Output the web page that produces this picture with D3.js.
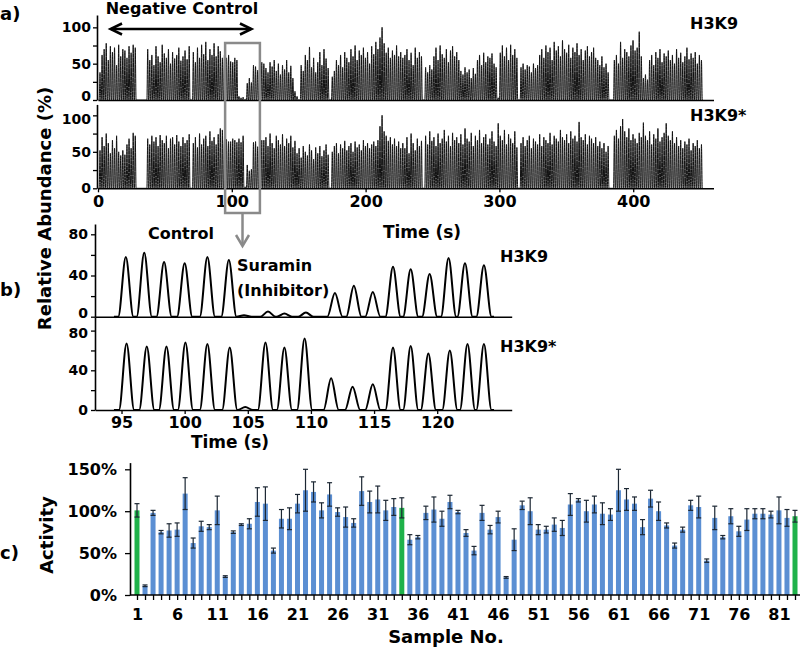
<!DOCTYPE html>
<html><head><meta charset="utf-8">
<script src="https://cdn.jsdelivr.net/npm/d3@7"></script>
<style>
body{margin:0;background:#fff;}
svg{display:block;font-family:"DejaVu Sans",sans-serif;font-weight:bold;}
</style></head><body>
<svg id="chart" width="800" height="651"></svg>
<script>
// ---------------- DATA ----------------
// Panel a: overview chromatograms, one peak height (%) per injection slot
const traceStart = 1.5;      // s, first injection
const traceStep = 1.55;      // s, between injections
const h3k9Overview = [
 38,62,70,78,55,74,66,72,48,76,60,70,68,58,74,65,76,72,
 0,0,0,0,0,
 70,55,62,48,74,60,52,76,64,58,70,50,66,57,62,72,54,60,68,56,74,
 0,
 66,52,72,58,76,63,80,55,70,62,78,60,74,67,58,62,
 58,62,53,52,58,55,
 5,3,4,1,
 23,30,24,
 48,46,41,57,52,50,
 44,38,52,46,55,40,50,35,48,42,55,38,47,30,12,
 5,0,
 48,40,62,55,73,45,58,38,52,66,48,70,57,44,
 0,
 32,40,55,48,62,45,66,58,52,70,60,75,55,68,62,72,58,66,50,74,63,80,70,86,100,78,65,72,58,68,62,75,60,66,58,
 62,70,55,65,48,72,58,66,60,
 0,
 45,38,48,42,60,72,55,75,63,58,70,52,68,74,60,66,55,40,35,45,38,42,30,44,36,55,62,48,65,52,60,58,64,50,45,3,
 65,75,60,72,55,76,62,70,58,
 0,
 45,50,42,48,46,38,50,44,48,62,70,58,75,66,72,55,80,68,74,60,82,70,65,76,58,72,66,78,62,70,55,68,74,60,66,72,58,55,48,60,45,50,38,
 0,0,
 55,62,50,80,58,70,66,60,75,82,68,72,94,60,
 30,35,28,
 55,62,48,66,58,70,52,64,60,68,55,62,50,70,58,65,52,60,72,56,64,58,66,50,62,55
];
const h3k9StarOverview = [
 52,70,58,75,62,48,66,55,72,50,45,52,46,60,68,55,76,72,
 0,0,0,0,0,
 68,60,72,64,70,58,73,66,62,72,55,68,70,60,73,64,58,70,62,66,74,
 0,
 62,70,56,75,60,68,72,58,78,65,70,60,74,82,80,66,
 67,64,64,68,66,63,
 68,63,72,2,
 32,24,26,
 63,64,57,60,66,66,
 70,58,75,62,55,72,66,60,74,58,68,62,72,56,65,
 48,55,42,58,50,45,60,52,40,56,48,58,44,52,60,46,
 0,
 50,58,62,48,60,55,65,52,58,62,50,64,56,60,52,66,58,62,55,60,64,58,66,85,100,78,72,65,70,60,68,58,64,55,62,
 55,70,48,75,62,52,68,58,65,
 0,
 72,60,78,65,70,58,75,62,68,80,64,72,58,76,66,70,62,74,60,82,68,64,76,58,72,66,80,62,70,74,60,68,78,64,58,89,72,66,80,60,74,68,62,78,56,
 0,
 62,70,58,66,72,55,68,64,60,74,58,70,66,62,76,60,72,68,64,80,70,66,74,62,78,68,72,64,91,70,66,74,60,72,68,62,70,58,64,55,62,50,58,
 0,0,
 72,80,68,85,95,78,70,82,66,74,68,62,76,70,90,72,66,78,60,74,68,82,64,70,76,89,72,66,78,62,70,58,66,55,64,60,68,52,62,58,66,55,60
];
const overviewTicks = [0, 100, 200, 300, 400];
const overviewYTicks = [0, 25, 50, 75, 100];
const zoomWindow = [95, 121];

// Panel b: zoomed region (time s, peak height %)
const zoomTimesH3K9 = [95.34,96.8,98.37,100.0,101.8,103.5,104.7,106.6,107.9,109.6,111.9,113.4,114.9,116.5,117.9,119.4,120.9,122.2,123.7];
const zoomHeightsH3K9 = [58,62,53,52,58,55,1.5,5,3,4,23,30,24,48.5,46,41.5,57,52,50];
const zoomTimesH3K9Star = [95.4,97.0,98.56,100.06,101.8,103.57,104.8,106.4,107.9,109.5,111.6,113.3,114.9,116.5,117.9,119.3,121.0,122.4,123.7];
const zoomHeightsH3K9Star = [67,64,64,68,66.5,63,3,68,63,72,32,23.5,26,63,64.5,57,60,66.5,66.5];
const zoomTicks = [95, 100, 105, 110, 115, 120];
const zoomYTicks = [0, 20, 40, 60, 80];

// Panel c: activity per sample (%), with error
const samples = d3.range(1, 84);
const activity = [101,11,98,75,77,78,121,62,82,81,101,22,75,84,85,111,109,53,91,91,
 109,125,123,101,120,99,93,86,124,111,114,101,105,104,66,69,98,102,91,111,
 99,74,53,98,78,93,21,66,107,100,78,78,84,80,108,113,100,108,97,96,
 125,114,109,81,115,100,83,59,78,107,105,41,92,69,94,76,90,97,97,96,
 101,92,94];
const activityErr = [8,1,3,2,8,8,19,6,6,3,17,1,1.5,1,6,17,20,3,11,13,
 11,25,12,9,14,5,12,5,17,13,16,12,10,12,6,2,8,15,9,8,
 2,4,5,9,5,7,1,13,5,16,6,4,8,9,13,2,13,10,13,7,
 25,13,8,9,10,11,3,3,3,6,13,2,14,2,9,6,13,6,6,4,
 16,10,7];
const controlSamples = [1, 34, 83];
const activityTicks = [0, 50, 100, 150];

// ---------------- DRAWING ----------------
const svg = d3.select("#chart");
const AX = 1.6;

function styleAxis(g, size) {
  g.attr("font-family", null).attr("font-size", size || 16).attr("font-weight", "bold");
  g.selectAll("path.domain").attr("stroke-width", AX).attr("stroke", "#000");
  g.selectAll(".tick line").attr("stroke-width", 1.3).attr("stroke", "#000");
  g.selectAll(".tick text").attr("fill", "#000");
}
function peakPoints(times, heights, hw, t0, t1) {
  const pts = [[t0, 0]];
  times.forEach((t, i) => { pts.push([t - hw, 0], [t, heights[i]], [t + hw, 0]); });
  pts.push([t1, 0]);
  return pts;
}
function txt(x, y, s, size, anchor) {
  return svg.append("text").attr("x", x).attr("y", y).attr("font-size", size)
    .attr("text-anchor", anchor || "start").attr("fill", "#000").text(s);
}

// ----- Panel a -----
const xA = d3.scaleLinear([0, 460], [98, 713.5]);
const yA1 = d3.scaleLinear([0, 117], [100, 15]);
const yA2 = d3.scaleLinear([0, 115], [188.3, 104.4]);
const overviewTimes = h3k9Overview.map((_, i) => traceStart + traceStep * i);

[[h3k9Overview, yA1], [h3k9StarOverview, yA2]].forEach(([hs, y]) => {
  const line = d3.line().x(d => xA(d[0])).y(d => y(d[1])).curve(d3.curveMonotoneX);
  svg.append("path").datum(peakPoints(overviewTimes, hs, 0.6, 0.5, 452))
    .attr("d", line).attr("fill", "none").attr("stroke", "#111").attr("stroke-width", 1);
});
svg.append("g").attr("transform", "translate(97,0)")
  .call(d3.axisLeft(yA1).tickValues(overviewYTicks).tickFormat(d => d % 50 === 0 ? d : "").tickSize(4).tickPadding(2).tickSizeOuter(0))
  .call(g => styleAxis(g, 14))
  .call(g => g.selectAll(".tick text").filter(d => d === 0).attr("dy", "0.05em"));
svg.append("g").attr("transform", "translate(97,0)")
  .call(d3.axisLeft(yA2).tickValues(overviewYTicks).tickFormat(d => d % 50 === 0 ? d : "").tickSize(4).tickPadding(2).tickSizeOuter(0))
  .call(g => styleAxis(g, 14))
  .call(g => g.selectAll(".tick text").filter(d => d === 100).attr("dy", "0.55em"));
svg.append("g").attr("transform", "translate(0,100)")
  .call(d3.axisBottom(xA).tickValues([]).tickSizeOuter(0)).call(styleAxis);
svg.append("g").attr("transform", "translate(0,188.3)")
  .call(d3.axisBottom(xA).tickValues(overviewTicks).tickSize(4).tickPadding(3).tickSizeOuter(0))
  .call(styleAxis);

txt(0, 20, "a)", 18);
txt(182, 14, "Negative Control", 16, "middle");
// double arrow
svg.append("line").attr("x1", 111).attr("x2", 251).attr("y1", 29).attr("y2", 29).attr("stroke", "#000").attr("stroke-width", 2.5);
svg.append("polyline").attr("points", "122,23.5 110.5,29 122,34.5").attr("fill", "none").attr("stroke", "#000").attr("stroke-width", 2.5);
svg.append("polyline").attr("points", "240,23.5 251.5,29 240,34.5").attr("fill", "none").attr("stroke", "#000").attr("stroke-width", 2.5);
txt(690, 29, "H3K9", 16);
txt(690, 121, "H3K9*", 16);
txt(422, 238, "Time (s)", 17, "middle");
svg.append("text").attr("transform", "translate(51,208.5) rotate(-90)").attr("text-anchor", "middle")
  .attr("font-size", 18).text("Relative Abundance (%)");

// zoom box + arrow
const bx0 = xA(zoomWindow[0]), bx1 = xA(zoomWindow[1]);
svg.append("rect").attr("x", bx0).attr("y", 43).attr("width", bx1 - bx0).attr("height", 170)
  .attr("fill", "none").attr("stroke", "#8a8a8a").attr("stroke-width", 2.5);
const bxm = (bx0 + bx1) / 2;
svg.append("line").attr("x1", bxm).attr("x2", bxm).attr("y1", 213).attr("y2", 246).attr("stroke", "#8a8a8a").attr("stroke-width", 2.5);
svg.append("polyline").attr("points", `${bxm - 6.5},235 ${bxm},246 ${bxm + 6.5},235`).attr("fill", "none").attr("stroke", "#8a8a8a").attr("stroke-width", 2.5);

// ----- Panel b -----
const xB = d3.scaleLinear([92.9, 125.9], [95, 511.7]);
const yB1 = d3.scaleLinear([0, 90], [316.7, 224]);
const yB2 = d3.scaleLinear([0, 94], [410, 316.7]);
[[zoomTimesH3K9, zoomHeightsH3K9, yB1], [zoomTimesH3K9Star, zoomHeightsH3K9Star, yB2]].forEach(([ts, hs, y]) => {
  const line = d3.line().x(d => xB(d[0])).y(d => y(d[1])).curve(d3.curveMonotoneX);
  svg.append("path").datum(peakPoints(ts, hs, 0.6, 94.4, 124.5))
    .attr("d", line).attr("fill", "none").attr("stroke", "#000").attr("stroke-width", 2);
});
svg.append("g").attr("transform", "translate(95,0)")
  .call(d3.axisLeft(yB1).tickValues(zoomYTicks).tickFormat(d => d % 40 === 0 ? d : "").tickSize(4).tickPadding(3).tickSizeOuter(0))
  .call(g => styleAxis(g, 14))
  .call(g => g.selectAll(".tick text").filter(d => d === 0).attr("dy", "0.05em"));
svg.append("g").attr("transform", "translate(95,0)")
  .call(d3.axisLeft(yB2).tickValues(zoomYTicks).tickFormat(d => d % 40 === 0 ? d : "").tickSize(4).tickPadding(3).tickSizeOuter(0))
  .call(g => styleAxis(g, 14))
  .call(g => g.selectAll(".tick text").filter(d => d === 80).attr("dy", "0.5em"));
svg.append("g").attr("transform", "translate(0,316.7)")
  .call(d3.axisBottom(xB).tickValues([]).tickSizeOuter(0)).call(styleAxis);
svg.append("g").attr("transform", "translate(0,410)")
  .call(d3.axisBottom(xB).tickValues(zoomTicks).tickSize(4).tickPadding(3).tickSizeOuter(0))
  .call(styleAxis);
txt(0, 296, "b)", 18);
txt(181, 239, "Control", 16, "middle");
txt(237, 271, "Suramin", 16);
txt(237, 296, "(Inhibitor)", 16);
txt(500, 262, "H3K9", 16);
txt(500, 352, "H3K9*", 16);
txt(230, 448, "Time (s)", 17, "middle");

// ----- Panel c -----
const xC = d3.scalePoint(samples, [137, 795]);
const yC = d3.scaleLinear([0, 158], [595, 462.6]);
const barW = 5;
const bars = svg.append("g");
samples.forEach((s, i) => {
  const v = activity[i], e = activityErr[i], cx = xC(s);
  bars.append("rect").attr("x", cx - barW / 2).attr("width", barW)
    .attr("y", yC(v)).attr("height", yC(0) - yC(v))
    .attr("fill", controlSamples.includes(s) ? "#1fb24a" : "#5b8fd3");
  bars.append("line").attr("x1", cx).attr("x2", cx).attr("y1", yC(v - e)).attr("y2", yC(v + e))
    .attr("stroke", "#1c2733").attr("stroke-width", 1.2);
  [v - e, v + e].forEach(w => bars.append("line").attr("x1", cx - 2.5).attr("x2", cx + 2.5)
    .attr("y1", yC(w)).attr("y2", yC(w)).attr("stroke", "#1c2733").attr("stroke-width", 1.2));
});
svg.append("g").attr("transform", "translate(130,0)")
  .call(d3.axisLeft(yC).tickValues(activityTicks).tickFormat(d => d + "%").tickSize(5).tickPadding(8).tickSizeOuter(0))
  .call(styleAxis);
const gx = svg.append("g").attr("transform", "translate(0,595)")
  .call(d3.axisBottom(xC).tickValues(samples).tickFormat(d => (d - 1) % 5 === 0 ? d : "").tickSize(5).tickPadding(9).tickSizeOuter(0))
  .call(styleAxis);
gx.select("path.domain").remove();
svg.append("line").attr("x1", 130).attr("x2", 800).attr("y1", 595).attr("y2", 595).attr("stroke", "#000").attr("stroke-width", AX);
txt(0, 559, "c)", 18);
svg.append("text").attr("transform", "translate(53,535) rotate(-90)").attr("text-anchor", "middle")
  .attr("font-size", 18).text("Activity");
txt(446, 643, "Sample No.", 18, "middle");
</script>
</body></html>
